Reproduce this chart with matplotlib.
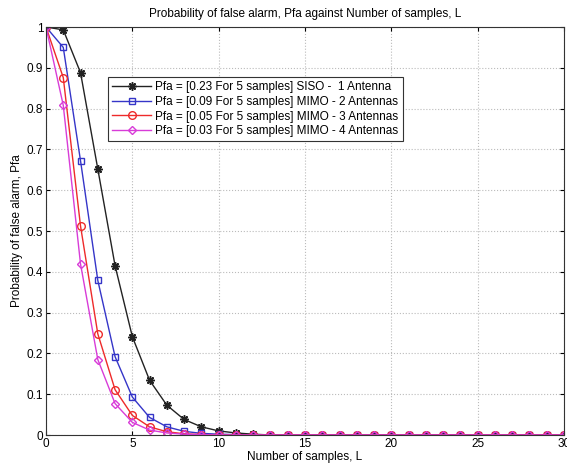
import numpy as np
import matplotlib.pyplot as plt

plt.rcParams['font.family'] = ['Liberation Sans', 'DejaVu Sans']

# Number of samples L = 0..30
samples = np.arange(0, 31)

# Probability of false alarm for each antenna configuration (first 13 samples, then ~0)
pfa_siso = [1.0, 0.993, 0.888, 0.652, 0.415, 0.241, 0.134, 0.073, 0.038, 0.020, 0.010, 0.005, 0.002] + [0.0] * 18
pfa_mimo2 = [1.0, 0.950, 0.672, 0.379, 0.192, 0.093, 0.043, 0.020, 0.009, 0.004, 0.002, 0.001, 0.0] + [0.0] * 18
pfa_mimo3 = [1.0, 0.876, 0.512, 0.248, 0.111, 0.048, 0.020, 0.008, 0.003, 0.001, 0.0, 0.0, 0.0] + [0.0] * 18
pfa_mimo4 = [1.0, 0.808, 0.419, 0.185, 0.077, 0.031, 0.012, 0.005, 0.002, 0.001, 0.0, 0.0, 0.0] + [0.0] * 18

labels = ['Pfa = [0.23 For 5 samples] SISO -  1 Antenna',
          'Pfa = [0.09 For 5 samples] MIMO - 2 Antennas',
          'Pfa = [0.05 For 5 samples] MIMO - 3 Antennas',
          'Pfa = [0.03 For 5 samples] MIMO - 4 Antennas']

fig = plt.figure(figsize=(5.67, 4.68), dpi=100)
ax = fig.add_axes([46 / 567, 33 / 468, 518 / 567, 408 / 468])

# asterisk-style marker for the SISO curve
ax.plot(samples, pfa_siso, color='#222222', marker=(8, 2, 0), markersize=6, mew=1.1, lw=1, label=labels[0])
ax.plot(samples, pfa_mimo2, color='#3535c8', marker='s', markersize=5, mfc='none', mew=1, lw=1, label=labels[1])
ax.plot(samples, pfa_mimo3, color='#ee2a2a', marker='o', markersize=5.5, mfc='none', mew=1, lw=1, label=labels[2])
ax.plot(samples, pfa_mimo4, color='#d83cd8', marker='D', markersize=4.5, mfc='none', mew=1, lw=1, label=labels[3])

ax.set_xlim(0, 30)
ax.set_ylim(0, 1)
ax.set_xticks(range(0, 31, 5))
ax.set_yticks(np.arange(0, 1.01, 0.1))
ax.set_yticklabels(['0', '0.1', '0.2', '0.3', '0.4', '0.5', '0.6', '0.7', '0.8', '0.9', '1'])
ax.tick_params(direction='in', length=3, labelsize=8.5, top=True, right=True, pad=2)
ax.grid(True, linestyle=':', color='#bbbbbb', linewidth=0.8)
for s in ax.spines.values():
    s.set_color('#333333')

ax.set_title('Probability of false alarm, Pfa against Number of samples, L', fontsize=8.5, pad=7)
ax.set_xlabel('Number of samples, L', fontsize=8.5, labelpad=1)
ax.set_ylabel('Probability of false alarm, Pfa', fontsize=8.5, labelpad=3)

leg = ax.legend(loc='upper left', bbox_to_anchor=(0.12, 0.877), fontsize=8.5, fancybox=False,
                edgecolor='#333333', framealpha=1, handlelength=3.3, borderpad=0.35,
                labelspacing=0.22, handletextpad=0.35, borderaxespad=0)
leg.get_frame().set_linewidth(0.8)

fig.savefig('out.png', dpi=100)
